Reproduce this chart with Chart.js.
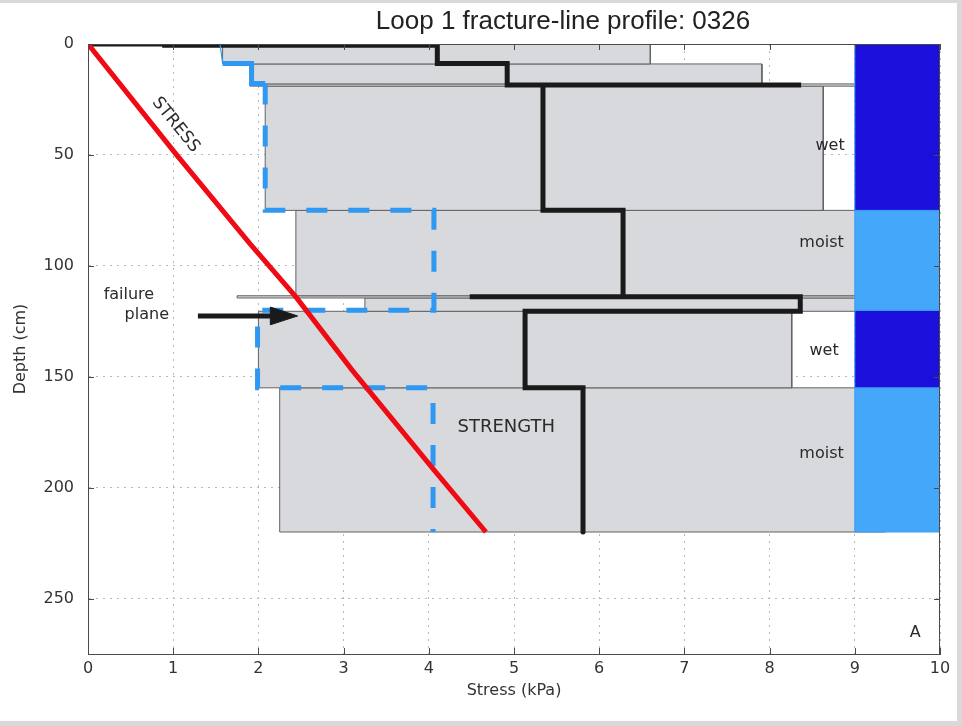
<!DOCTYPE html>
<html>
<head>
<meta charset="utf-8">
<title>Loop 1 fracture-line profile: 0326</title>
<script src="https://cdn.jsdelivr.net/npm/chart.js@4.4.1/dist/chart.umd.min.js"></script>
<style>
  html, body { margin: 0; padding: 0; background: #fff; }
  #wrap { width: 962px; height: 726px; }
</style>
</head>
<body>
<div id="wrap"><canvas id="profile-chart" width="962" height="726"></canvas></div>
<script>
// Loop 1 fracture-line profile 0326 -- stress vs strength with depth

const stressTicks = [0, 1, 2, 3, 4, 5, 6, 7, 8, 9, 10];
const depthTicks = [0, 50, 100, 150, 200, 250];

// slab stress (red)
const stressDepth = [0, 50, 90, 114, 147, 192, 220];
const stressKPa   = [0, 1.04, 1.9, 2.44, 3.1, 4.06, 4.67];

// layer strength profile (thick black step line)
const strengthDepth = [0, 0, 0.6, 0.6, 8.8, 8.8, 18.5, 18.5, 18.5, 75, 75, 114, 114, 114, 120.5, 120.5, 155, 155, 220];
const strengthKPa   = [0, 0.9, 0.9, 4.1, 4.1, 4.92, 4.92, 8.37, 5.34, 5.34, 6.28, 6.28, 4.48, 8.36, 8.36, 5.13, 5.13, 5.81, 5.81];

// lower strength estimate (blue): thin start, solid top, dashed rest
const weakThinDepth  = [0, 8.8];
const weakThinKPa    = [1.55, 1.58];
const weakSolidDepth = [8.8, 8.8, 17.8, 17.8];
const weakSolidKPa   = [1.58, 1.92, 1.92, 2.08];
const weakDashDepth  = [17.8, 75, 75, 120, 120, 155, 155, 220];
const weakDashKPa    = [2.08, 2.08, 4.06, 4.06, 1.99, 1.99, 4.05, 4.05];

// strength range per layer (gray boxes)
const layerTop    = [0, 9, 18, 19, 75, 113.5, 114.5, 120.5, 155];
const layerBottom = [9, 18, 19, 75, 113.5, 114.5, 120.5, 155, 220];
const layerLow    = [1.58, 1.9, 1.9, 2.08, 2.44, 1.75, 3.25, 2.0, 2.25];
const layerHigh   = [6.6, 7.91, 10, 8.63, 10, 10, 10, 8.26, 9.35];

// wetness column
const wetTop    = [0, 75, 120, 155];
const wetBottom = [75, 120, 155, 220];
const wetState  = ['wet', 'moist', 'wet', 'moist'];

// failure plane arrow
const arrowDepth = 122.6;
const arrowFrom = 1.29;
const arrowTo = 2.46;

const FONT = '"DejaVu Sans", sans-serif';
const INK = '#2b2b2b';

const pts = (xs, ys) => xs.map((x, i) => ({ x: x, y: ys[i] }));
const box = (x0, x1, y0, y1) => [
  { x: x0, y: y0 }, { x: x1, y: y0 }, { x: x1, y: y1 }, { x: x0, y: y1 }, { x: x0, y: y0 }
];

const datasets = [];

layerTop.forEach((top, i) => {
  datasets.push({
    data: box(layerLow[i], layerHigh[i], top, layerBottom[i]),
    showLine: true,
    fill: 'shape',
    backgroundColor: '#d8d9dc',
    borderColor: '#626262',
    borderWidth: 1,
    order: 100
  });
});

wetTop.forEach((top, i) => {
  datasets.push({
    data: box(9, 10, top, wetBottom[i]),
    showLine: true,
    fill: 'shape',
    backgroundColor: wetState[i] === 'wet' ? '#1b0fdc' : '#45a7fa',
    borderColor: '#3c9ef6',
    borderWidth: 1,
    order: 90
  });
});

datasets.push({
  data: pts(strengthKPa, strengthDepth),
  showLine: true,
  borderColor: '#1a1a1a',
  borderWidth: 5,
  borderJoinStyle: 'miter',
  borderCapStyle: 'round',
  clip: 0,
  order: 50
});

datasets.push({
  data: pts(weakThinKPa, weakThinDepth),
  showLine: true,
  borderColor: '#2e98f2',
  borderWidth: 1.2,
  order: 41
});
datasets.push({
  data: pts(weakSolidKPa, weakSolidDepth),
  showLine: true,
  borderColor: '#2e98f2',
  borderWidth: 5,
  borderJoinStyle: 'miter',
  order: 40
});
datasets.push({
  data: pts(weakDashKPa, weakDashDepth),
  showLine: true,
  borderColor: '#2e98f2',
  borderWidth: 5,
  borderDash: [21, 21],
  borderCapStyle: 'butt',
  order: 40
});

datasets.push({
  data: pts(stressKPa, stressDepth),
  showLine: true,
  borderColor: '#f00a14',
  borderWidth: 5,
  order: 20
});

// arrow shaft + head
datasets.push({
  data: [{ x: arrowFrom, y: arrowDepth }, { x: arrowTo - 0.3, y: arrowDepth }],
  showLine: true,
  borderColor: '#1a1a1a',
  borderWidth: 5,
  borderCapStyle: 'butt',
  order: 10
});
datasets.push({
  data: [
    { x: arrowTo - 0.32, y: arrowDepth - 4 },
    { x: arrowTo, y: arrowDepth },
    { x: arrowTo - 0.32, y: arrowDepth + 4 },
    { x: arrowTo - 0.32, y: arrowDepth - 4 }
  ],
  showLine: true,
  fill: 'shape',
  backgroundColor: '#1a1a1a',
  borderColor: '#1a1a1a',
  borderWidth: 1,
  order: 10
});

// text placed in data units
const notes = [
  { text: 'STRESS', x: 1.03, y: 36.5, angle: 51, size: 17 },
  { text: 'STRENGTH', x: 4.91, y: 173, size: 18 },
  { text: 'failure', x: 0.48, y: 113, size: 16 },
  { text: 'plane', x: 0.69, y: 122, size: 16 },
  { text: 'wet', x: 8.71, y: 46, size: 16 },
  { text: 'moist', x: 8.61, y: 89.6, size: 16 },
  { text: 'wet', x: 8.64, y: 138.3, size: 16 },
  { text: 'moist', x: 8.61, y: 184.7, size: 16 },
  { text: 'A', x: 9.71, y: 265.6, size: 16 }
];

const profileDecor = {
  id: 'profileDecor',
  beforeDraw(chart) {
    const ctx = chart.ctx;
    ctx.save();
    ctx.fillStyle = '#d9d9d9';
    ctx.fillRect(0, 0, chart.width, chart.height);
    ctx.fillStyle = '#ffffff';
    ctx.fillRect(0, 3, chart.width - 5, chart.height - 8);
    ctx.restore();
  },
  afterDatasetsDraw(chart) {
    const ctx = chart.ctx;
    const a = chart.chartArea;
    const xs = chart.scales.x;
    const ys = chart.scales.y;
    ctx.save();

    // axes box
    ctx.strokeStyle = '#4a4a4a';
    ctx.lineWidth = 1;
    ctx.strokeRect(a.left + 0.5, a.top + 0.5, a.right - a.left - 1, a.bottom - a.top);

    // inward ticks on all four sides
    ctx.beginPath();
    stressTicks.forEach(v => {
      const px = Math.round(xs.getPixelForValue(v)) + 0.5;
      ctx.moveTo(px, a.bottom); ctx.lineTo(px, a.bottom - 6);
      ctx.moveTo(px, a.top); ctx.lineTo(px, a.top + 6);
    });
    depthTicks.forEach(v => {
      const py = Math.round(ys.getPixelForValue(v)) + 0.5;
      ctx.moveTo(a.left, py); ctx.lineTo(a.left + 6, py);
      ctx.moveTo(a.right, py); ctx.lineTo(a.right - 6, py);
    });
    ctx.stroke();

    // annotations
    ctx.fillStyle = INK;
    ctx.textAlign = 'center';
    ctx.textBaseline = 'middle';
    notes.forEach(n => {
      ctx.save();
      ctx.translate(xs.getPixelForValue(n.x), ys.getPixelForValue(n.y));
      if (n.angle) ctx.rotate(n.angle * Math.PI / 180);
      ctx.font = n.size + 'px ' + FONT;
      ctx.fillText(n.text, 0, 0);
      ctx.restore();
    });

    // title
    ctx.fillStyle = '#222';
    ctx.font = '26px "Liberation Sans", Arial, sans-serif';
    ctx.fillText('Loop 1 fracture-line profile: 0326', 563, 22);
    ctx.restore();
  }
};

new Chart(document.getElementById('profile-chart'), {
  type: 'scatter',
  data: { datasets: datasets },
  options: {
    responsive: false,
    animation: false,
    events: [],
    layout: { padding: { top: 44, right: 22, bottom: 0, left: 0 } },
    elements: {
      point: { radius: 0, hoverRadius: 0 },
      line: { tension: 0, fill: false }
    },
    plugins: {
      legend: { display: false },
      tooltip: { enabled: false }
    },
    scales: {
      x: {
        type: 'linear',
        min: 0,
        max: 10,
        afterBuildTicks: s => { s.ticks = stressTicks.map(v => ({ value: v })); },
        afterFit: s => { s.height = 72; },
        ticks: { padding: 5, color: '#333', font: { family: FONT, size: 16 } },
        grid: { color: '#b8b8b8', drawTicks: false },
        border: { color: '#4a4a4a', dash: [2, 5] },
        title: {
          display: true,
          text: 'Stress (kPa)',
          color: '#333',
          font: { family: FONT, size: 16 },
          padding: { top: 0, bottom: 26 }
        }
      },
      y: {
        type: 'linear',
        reverse: true,
        min: 0,
        max: 275,
        afterBuildTicks: s => { s.ticks = depthTicks.map(v => ({ value: v })); },
        afterFit: s => { s.width = 88; },
        ticks: { padding: 14, color: '#333', font: { family: FONT, size: 16 } },
        grid: { color: '#b8b8b8', drawTicks: false },
        border: { color: '#4a4a4a', dash: [2, 5] },
        title: {
          display: true,
          text: 'Depth (cm)',
          color: '#333',
          font: { family: FONT, size: 16 },
          padding: { top: 11, bottom: 0 }
        }
      }
    }
  },
  plugins: [profileDecor]
});
</script>
</body>
</html>
